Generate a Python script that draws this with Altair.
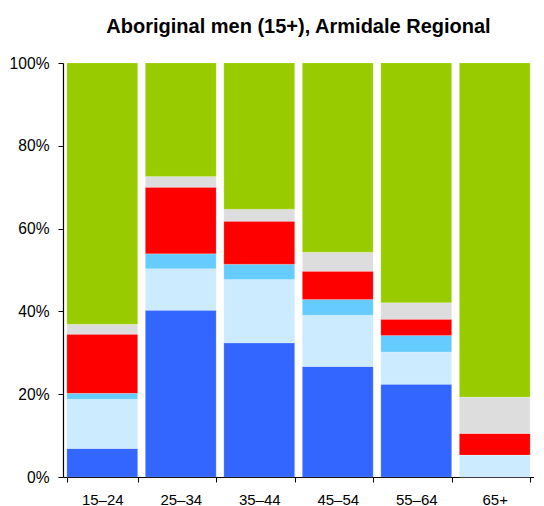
import altair as alt
import pandas as pd

categories = ["15–24", "25–34", "35–44", "45–54", "55–64", "65+"]
series = ["Employed full-time", "Employed part-time", "Employed, away from work",
          "Unemployed", "Not stated", "Not in the labour force"]
colors = ["#3366FF", "#CCEBFF", "#66CCFF", "#FF0000", "#DDDDDD", "#99CC00"]

full_time = [6.9, 40.3, 32.4, 26.7, 22.4, 0.0]
part_time = [11.9, 10.0, 15.3, 12.4, 7.8, 5.3]
away = [1.4, 3.6, 3.7, 3.8, 4.0, 0.0]
unemployed = [14.3, 16.1, 10.4, 6.8, 3.9, 5.2]
not_stated = [2.4, 2.6, 2.9, 4.6, 4.0, 8.8]
not_in_lf = [63.1, 27.4, 35.3, 45.7, 57.9, 80.7]

values = [full_time, part_time, away, unemployed, not_stated, not_in_lf]
rows = []
for si, (name, vals) in enumerate(zip(series, values)):
    for cat, v in zip(categories, vals):
        rows.append({"age": cat, "status": name, "order": si, "pct": v})
df = pd.DataFrame(rows)

chart = alt.Chart(df).mark_bar(stroke="white", strokeWidth=0.5, strokeOpacity=0.35).encode(
    x=alt.X("age:N", sort=categories, title=None,
            scale=alt.Scale(paddingInner=0.098, paddingOuter=0.049),
            axis=alt.Axis(labelAngle=0, tickBand="extent", labelFontSize=15,
                          labelFont="Liberation Sans", labelColor="#000000",
                          labelPadding=10, tickSize=5, tickColor="#000000",
                          domainColor="#000000", domainWidth=1.2)),
    y=alt.Y("pct:Q", stack="normalize", title=None,
            scale=alt.Scale(domain=[0, 1], nice=False),
            axis=alt.Axis(format=".0%", values=[0, 0.2, 0.4, 0.6, 0.8, 1.0],
                          grid=False, labelFontSize=15.6, labelFont="Liberation Sans",
                          labelColor="#000000", labelPadding=9, tickSize=5,
                          tickColor="#000000", domainColor="#000000", domainWidth=1.2)),
    color=alt.Color("status:N", sort=series,
                    scale=alt.Scale(domain=series, range=colors), legend=None),
    order=alt.Order("order:Q", sort="ascending"),
).properties(
    width=471,
    height=414,
    title=alt.TitleParams("Aboriginal men (15+), Armidale Regional",
                          font="Liberation Sans", fontSize=20, fontWeight="bold",
                          color="#000000", anchor="middle", offset=19.5),
    padding={"left": 1, "right": 0, "top": 8, "bottom": 0},
).configure_view(stroke=None)

chart.save("out.html", embed_options={"renderer": "svg", "actions": False})
